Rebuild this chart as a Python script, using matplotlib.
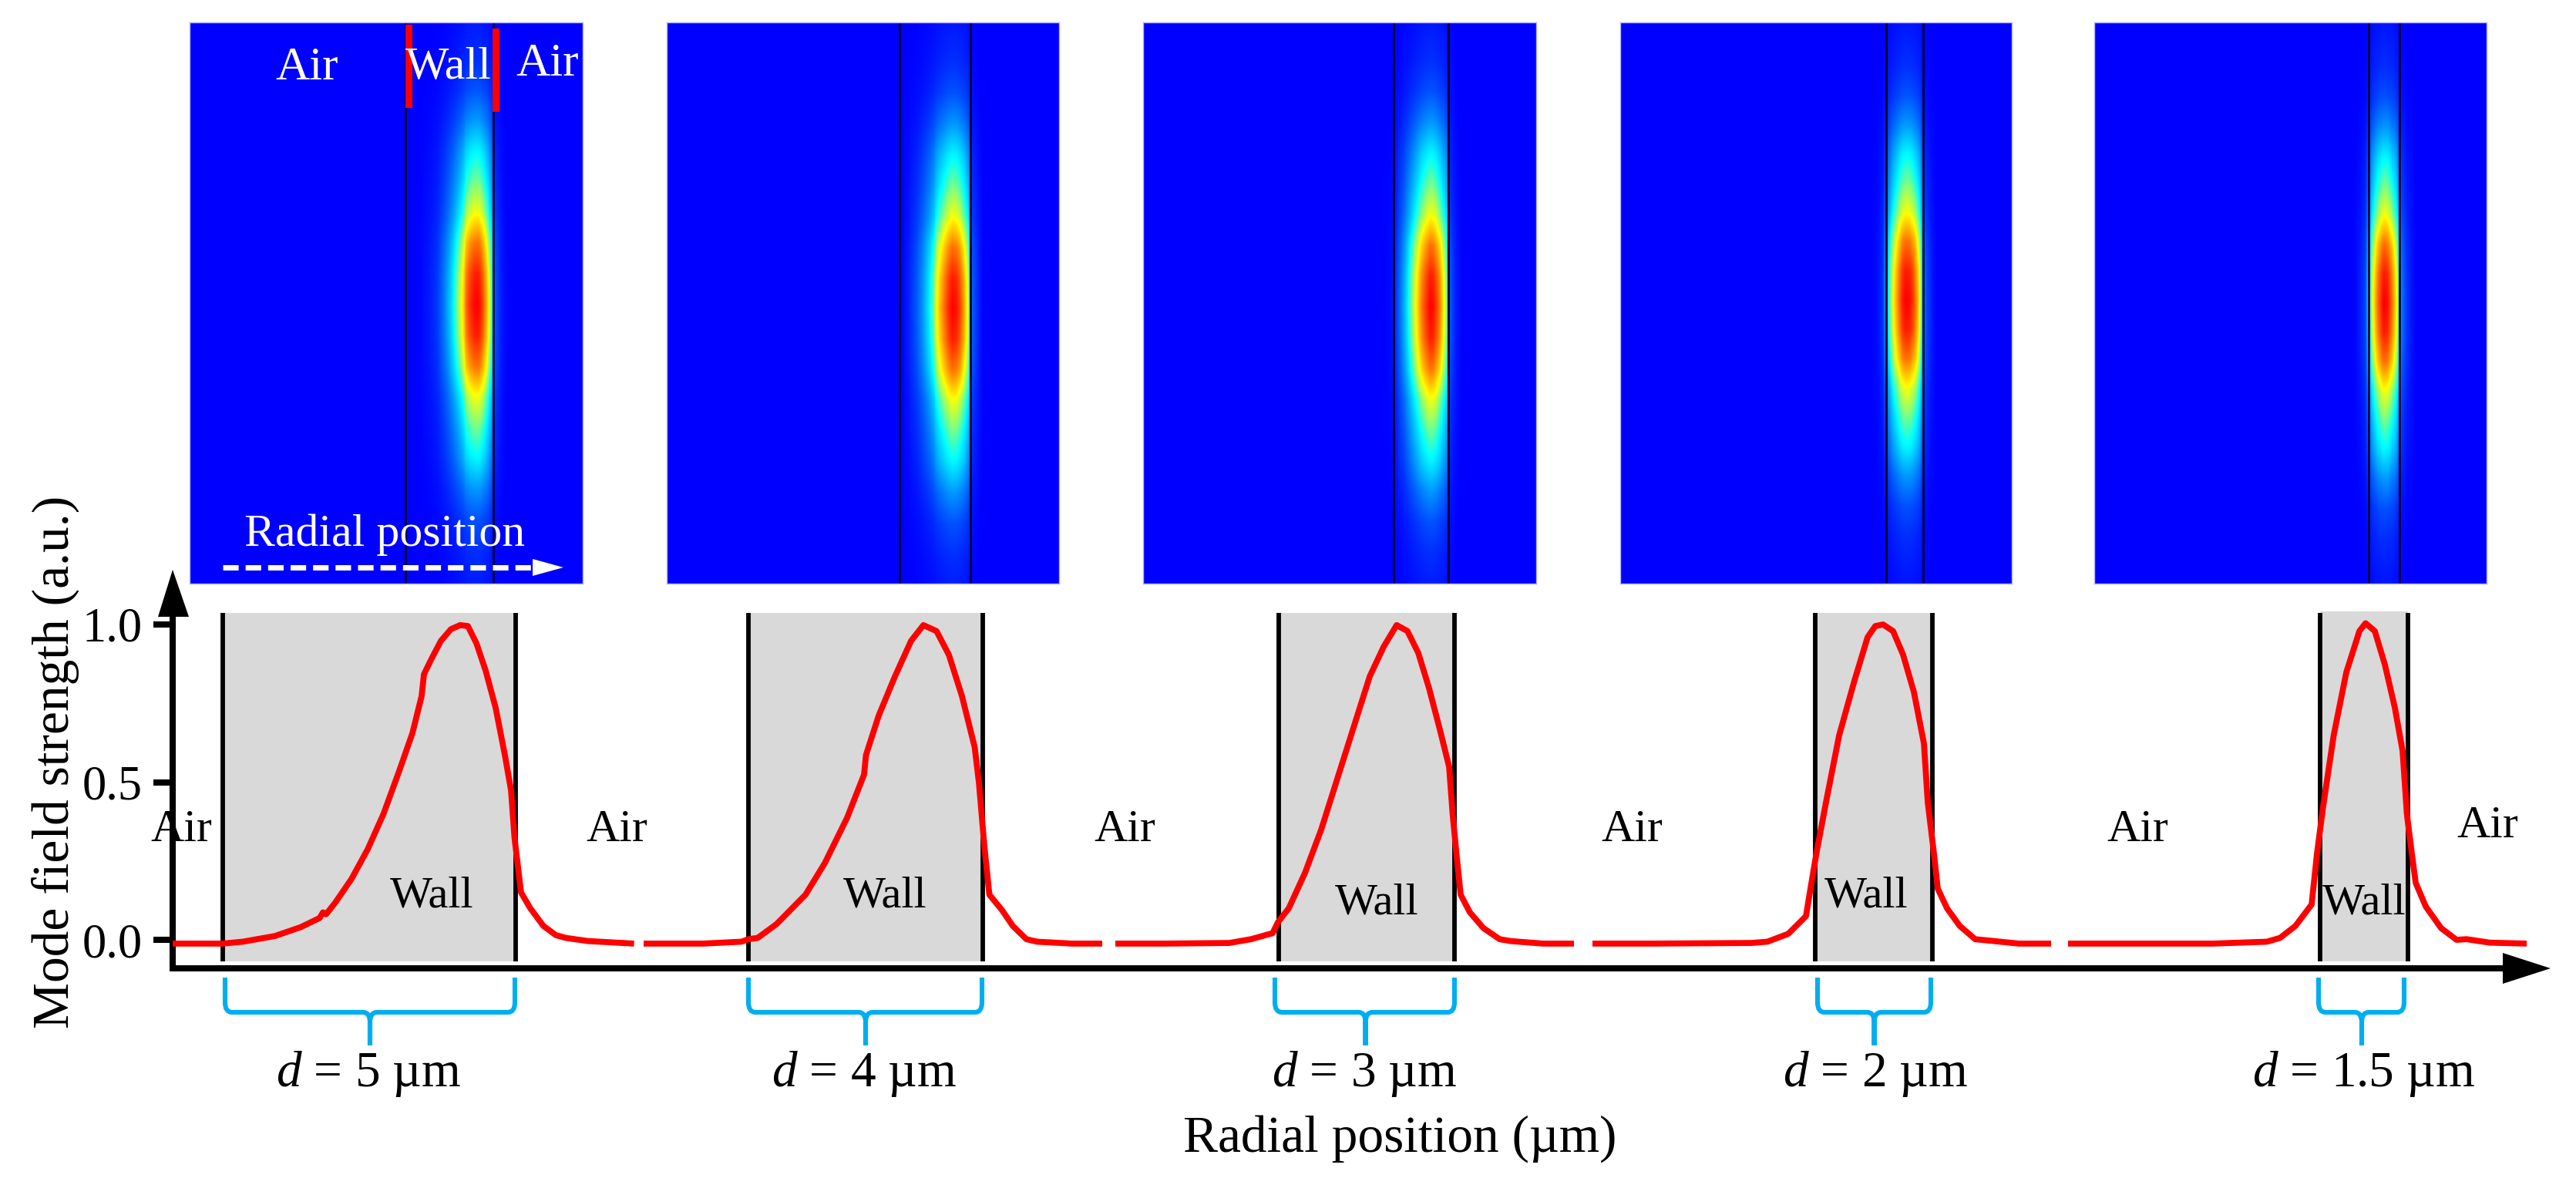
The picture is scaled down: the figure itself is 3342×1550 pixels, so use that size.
import numpy as np
import matplotlib
matplotlib.use("Agg")
import matplotlib.pyplot as plt
from matplotlib.colors import LinearSegmentedColormap
from matplotlib.path import Path
from matplotlib.patches import PathPatch, Rectangle

plt.rcParams['font.family'] = ['Liberation Serif', 'DejaVu Serif']
plt.rcParams['mathtext.fontset'] = 'custom'
plt.rcParams['mathtext.rm'] = 'Liberation Serif'
plt.rcParams['mathtext.it'] = 'Liberation Serif:italic'

W, H = 3342, 1550

# ---- data: wall thicknesses and positions along the (broken) radial axis
thickness_labels = ["5", "4", "3", "2", "1.5"]
wall_left = [288.5, 971, 1659, 2355, 3010]
wall_right = [669, 1274.5, 1887, 2507, 3124]
wall_top = [1.037, 1.037, 1.037, 1.037, 1.042]
wall_label_x = [560, 1148, 1786, 2421, 3067]
wall_label_y = [0.139, 0.139, 0.117, 0.139, 0.117]
air_label_x = [235, 800, 1459, 2117.5, 2773, 3227]
air_label_y = [0.347, 0.347, 0.347, 0.347, 0.347, 0.360]

curve1_x = [224, 288.6, 315, 356.6, 390, 414.6, 419, 423, 435, 456, 477, 497.5, 518, 535, 547, 550, 560, 572,
            585, 597, 607, 618, 630, 643, 655, 663, 667.5, 676, 688, 705, 721, 734, 763, 822.6]
curve1_y = [-.012, -.012, -.006, .012, .04, .069, .087, .081, .118, .193, .287, .399, .536, .655, .773, .842, .892, .948,
            .985, .998, .995, .941, .854, .736, .586, .474, .324, .15, .1, .044, .015, .006, -.004, -.012]
curve2_x = [835, 912, 962, 971, 983, 1007.5, 1045, 1070, 1099, 1121, 1123.5, 1140, 1161, 1182, 1198, 1215, 1231,
            1248, 1264.5, 1270, 1277, 1283.6, 1300, 1314, 1331.6, 1345.6, 1391, 1430]
curve2_y = [-.012, -.012, -.006, .002, .006, .05, .143, .243, .387, .524, .586, .711, .835, .948, .998, .979, .904,
            .773, .611, .499, .299, .143, .094, .044, .002, -.006, -.012, -.012]
curve3_x = [1447, 1510.5, 1595, 1623, 1651, 1658, 1672, 1693, 1714, 1735, 1756, 1777, 1795, 1812, 1826, 1840, 1854,
            1868, 1880, 1884.6, 1889.5, 1895, 1907, 1924.6, 1945.6, 1960, 2002, 2042]
curve3_y = [-.012, -.012, -.01, .002, .021, .056, .1, .212, .349, .511, .673, .835, .929, .998, .979, .91, .798,
            .667, .549, .399, .274, .143, .087, .037, .002, -.004, -.012, -.012]
curve4_x = [2066, 2142, 2272, 2293, 2320, 2343, 2348, 2356.5, 2370, 2386, 2406, 2423, 2433, 2443, 2456, 2469, 2483,
            2496, 2501, 2509, 2514, 2526, 2542.5, 2562.5, 2579, 2619, 2661]
curve4_y = [-.012, -.012, -.01, -.006, .019, .075, .15, .274, .449, .648, .823, .96, .995, 1.0, .979, .904, .786,
            .623, .436, .274, .162, .1, .044, .002, -.002, -.012, -.012]
curve5_x = [2683, 2765, 2871, 2941, 2958, 2978, 2999, 3006, 3014, 3027.6, 3044, 3061, 3069, 3081, 3094, 3107, 3117,
            3122.6, 3129, 3134, 3147, 3167, 3187, 3200, 3230, 3278]
curve5_y = [-.012, -.012, -.012, -.006, .006, .044, .112, .274, .424, .648, .848, .979, 1.004, .979, .873, .736, .599,
            .399, .274, .181, .106, .037, 0, .002, -.009, -.012]
curves_x = [curve1_x, curve2_x, curve3_x, curve4_x, curve5_x]
curves_y = [curve1_y, curve2_y, curve3_y, curve4_y, curve5_y]

# brackets below the axis
bracket_left = [292, 971, 1654, 2358, 3008]
bracket_right = [668, 1274, 1887, 2505, 3119]
bracket_mid = [480, 1123, 1771.6, 2431.6, 3064]
d_label_x = [478, 1121, 1770, 2433, 3067]

# field-map panels
panel_left = [246, 865, 1483, 2102, 2717]
panel_right = [756, 1374, 1993, 2610, 3226]
panel_wall_l = [526, 1167.5, 1808, 2446.6, 3073]
panel_wall_r = [640, 1259, 1879, 2495, 3113]
panel_centre = [395, 400, 398, 389, 393]
panel_stretch = [1.0, 1.0, 1.0, 1.05, 1.05]
envelope_offset = [0, 40, 80, 120, 160, 200, 240, 280, 320, 370, 420]
envelope_value = [1.0, .96, .84, .63, .50, .39, .24, .13, .075, .04, .02]

rainbow = LinearSegmentedColormap.from_list(
    "field", [(0, "#0000ff"), (.40, "#00ffff"), (.52, "#8cff73"), (.64, "#ffff00"), (1, "#ff0000")])

def v(py):
    """a.u. value for a height measured on the reference."""
    return (1219 - py) / 409

fig = plt.figure(figsize=(W / 100, H / 100), dpi=100, facecolor="white")
ax = fig.add_axes([0, 0, 1, 1])
ax.patch.set_visible(False)
ax.set_xlim(0, W)
ax.set_ylim(v(H), v(0))

for s in ("top", "right"):
    ax.spines[s].set_visible(False)
ax.spines["left"].set_position(("data", 224))
ax.spines["left"].set_bounds(v(1256), v(790))
ax.spines["bottom"].set_position(("data", v(1256)))
ax.spines["bottom"].set_bounds(224, 3255)
for s in ("left", "bottom"):
    ax.spines[s].set_linewidth(5.8)
    ax.spines[s].set_capstyle("butt")
ax.set_xticks([])
ax.set_yticks([0, .5, 1])
ax.set_yticklabels(["0.0", "0.5", "1.0"])
ax.tick_params(axis="y", length=18, width=5.8, pad=10, labelsize=45)
ax.set_ylabel("Mode field strength (a.u.)", fontsize=48.5, va="center", ha="center")
ax.yaxis.set_label_coords(72 / W, 1 - 988 / H)
ax.set_xlabel("Radial position (µm)", fontsize=48.5, va="center", ha="center")
ax.xaxis.set_label_coords(1816 / W, 1 - 1477 / H)

# axis arrow heads
ax.fill([205, 245, 224], [v(800), v(800), v(739)], color="black", lw=0, clip_on=False, zorder=6)
ax.fill([3247, 3247, 3309], [v(1236), v(1276), v(1256)], color="black", lw=0, clip_on=False, zorder=6)
ax.fill([220, 228, 228, 220], [v(1252), v(1252), v(1260), v(1260)], color="black", lw=0, zorder=6)

for i in range(5):
    l, r = wall_left[i], wall_right[i]
    ax.fill_between([l, r], v(1247), wall_top[i], color="#d9d9d9", lw=0, zorder=1)
    ax.plot([l, l], [v(1247), v(795)], color="black", lw=4.2, solid_capstyle="butt", zorder=2)
    ax.plot([r, r], [v(1247), v(795)], color="black", lw=4.2, solid_capstyle="butt", zorder=2)
    ax.plot(curves_x[i], curves_y[i], color="#ff0000", lw=5.6, solid_capstyle="butt",
            solid_joinstyle="round", zorder=4)
    ax.text(wall_label_x[i], wall_label_y[i], "Wall", fontsize=42, ha="center", va="center", zorder=5)

    bl, br, bm = bracket_left[i], bracket_right[i], bracket_mid[i]
    y0, y1, y2 = v(1268), v(1313), v(1356)
    verts = [(bl, y0), (bl, v(1300)), (bl, y1), (bl + 9, y1), (bm - 9, y1), (bm, y1), (bm, v(1326)), (bm, y2),
             (bm, v(1326)), (bm, y1), (bm + 9, y1), (br - 9, y1), (br, y1), (br, v(1300)), (br, y0)]
    codes = [Path.MOVETO, Path.LINETO, Path.CURVE3, Path.CURVE3, Path.LINETO, Path.CURVE3, Path.CURVE3, Path.LINETO,
             Path.LINETO, Path.CURVE3, Path.CURVE3, Path.LINETO, Path.CURVE3, Path.CURVE3, Path.LINETO]
    ax.add_patch(PathPatch(Path(verts, codes), fc="none", ec="#00aeef", lw=4.4, capstyle="butt", zorder=3))
    ax.text(d_label_x[i], v(1393), r"$\mathit{d}$ = " + thickness_labels[i] + " µm", fontsize=47,
            ha="center", va="center")

for x, y in zip(air_label_x, air_label_y):
    ax.text(x, y, "Air", fontsize=43, ha="center", va="center", zorder=5)

# field maps: radial profile of each curve across the wall, times the axial envelope
for i in range(5):
    l, r = panel_left[i], panel_right[i]
    a = fig.add_axes([l / W, 1 - 757 / H, (r - l) / W, (757 - 29) / H])
    xs = np.arange(l, r + 1, 1.0)
    ys = np.arange(29, 758, 1.0)
    scale = (wall_right[i] - wall_left[i]) / (panel_wall_r[i] - panel_wall_l[i])
    cx = wall_left[i] + (xs - panel_wall_l[i]) * scale
    f = np.interp(cx, curves_x[i], np.clip(curves_y[i], 0, None), left=0, right=0)
    g = np.interp(np.abs(ys - panel_centre[i]) * panel_stretch[i], envelope_offset, envelope_value)
    a.imshow(np.outer(g, f), cmap=rainbow, vmin=0, vmax=1, aspect="auto", origin="upper",
             extent=(l, r, 757, 29), interpolation="bilinear")
    a.set_xticks([])
    a.set_yticks([])
    for s in a.spines.values():
        s.set_edgecolor("#b4b4ff")
        s.set_linewidth(1)
    for wx in (panel_wall_l[i], panel_wall_r[i]):
        a.plot([wx, wx], [29, 757], color="#000030", lw=2.0, solid_capstyle="butt")
    if i == 0:
        a.add_patch(Rectangle((526, 32), 9, 108, color="#ff0000", lw=0, zorder=5))
        a.add_patch(Rectangle((639, 37), 9, 108, color="#ff0000", lw=0, zorder=5))
        a.text(398, 88, "Air", color="white", fontsize=44, ha="center", va="center", zorder=6)
        a.text(582, 88, "Wall", color="white", fontsize=43, ha="center", va="center", zorder=6)
        a.text(710, 83, "Air", color="white", fontsize=44, ha="center", va="center", zorder=6)
        a.text(499, 694, "Radial position", color="white", fontsize=43, ha="center", va="center", zorder=6)
        a.plot([289, 695], [736, 736], color="white", lw=5, dashes=(2.9, 1.3), zorder=6)
        a.fill([691, 691, 731], [725, 747, 736], color="white", lw=0, zorder=6)
        a.set_xlim(l, r)
        a.set_ylim(757, 29)

fig.savefig("out.png", dpi=100)
